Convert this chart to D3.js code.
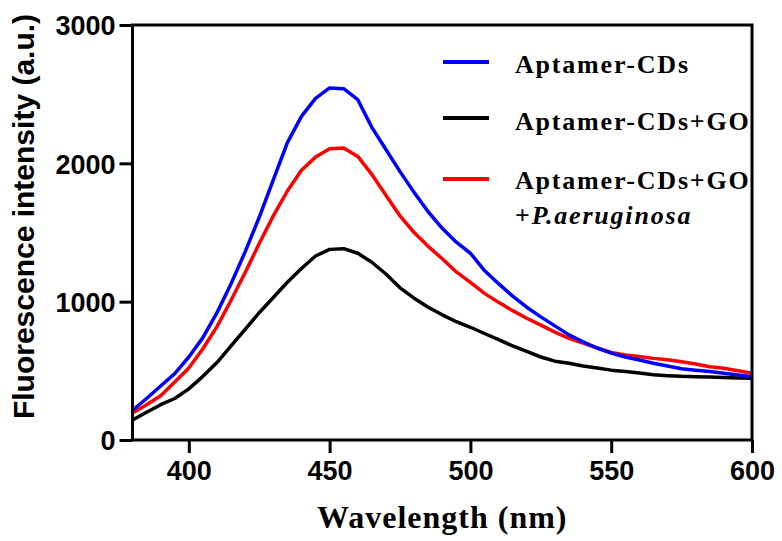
<!DOCTYPE html>
<html>
<head>
<meta charset="utf-8">
<script src="https://cdn.jsdelivr.net/npm/d3@7"></script>
<style>
  body { margin: 0; background: #fff; }
  svg { display: block; }
</style>
</head>
<body>
<div id="chart"></div>
<script>
// wavelength samples (nm)
const wavelengths = d3.range(380, 601, 5);

const aptamerCDs = [215, 300, 390, 480, 600, 740, 920, 1130, 1360, 1610, 1880, 2150, 2340, 2470, 2545,
    2540, 2460, 2260, 2100, 1940, 1790, 1650, 1530, 1430, 1350, 1225, 1130, 1040, 960, 890,
    825, 760, 710, 665, 628, 600, 578, 555, 535, 515, 505, 495, 483, 470, 458];

const aptamerCDsGO = [145, 200, 255, 300, 370, 460, 560, 680, 800, 920, 1030, 1140, 1240, 1330, 1378,
    1383, 1350, 1285, 1200, 1100, 1025, 960, 905, 855, 815, 770, 725, 680, 640, 600,
    570, 555, 535, 520, 505, 495, 485, 472, 465, 460, 458, 455, 451, 449, 447];

const aptamerCDsGOPa = [195, 255, 320, 420, 520, 660, 820, 1010, 1210, 1420, 1620, 1800, 1950, 2045, 2105,
    2110, 2050, 1920, 1770, 1620, 1500, 1400, 1310, 1215, 1140, 1060, 995, 935, 880, 830,
    780, 735, 700, 665, 633, 615, 603, 590, 580, 565, 550, 530, 518, 500, 483];

const xTicks = [400, 450, 500, 550, 600];
const yTicks = [0, 1000, 2000, 3000];

const series = [
    { name: "Aptamer-CDs", values: aptamerCDs, color: "#0000ff" },
    { name: "Aptamer-CDs+GO", values: aptamerCDsGO, color: "#000000" },
    { name: "Aptamer-CDs+GO", extra: "P.aeruginosa", values: aptamerCDsGOPa, color: "#ff0000" }
];

const width = 782, height = 541;
const margin = { left: 132.5, right: 30, top: 25, bottom: 101 };

const svg = d3.select("#chart").append("svg")
    .attr("width", width)
    .attr("height", height);

const x = d3.scaleLinear().domain([380, 600]).range([margin.left, width - margin.right]);
const y = d3.scaleLinear().domain([0, 3000]).range([height - margin.bottom, margin.top]);

const line = d3.line()
    .x((d, i) => x(wavelengths[i]))
    .y(d => y(d));

// black first, then red, then blue on top
[series[1], series[2], series[0]].forEach(s => {
    svg.append("path")
        .datum(s.values)
        .attr("fill", "none")
        .attr("stroke", s.color)
        .attr("stroke-width", 3.5)
        .attr("stroke-linejoin", "round")
        .attr("d", line);
});

// frame box
svg.append("rect")
    .attr("x", x(380))
    .attr("y", y(3000))
    .attr("width", x(600) - x(380))
    .attr("height", y(0) - y(3000))
    .attr("fill", "none")
    .attr("stroke", "#000")
    .attr("stroke-width", 3);

const xAxis = svg.append("g")
    .attr("transform", `translate(0,${y(0)})`)
    .call(d3.axisBottom(x).tickValues(xTicks).tickFormat(d3.format("d"))
        .tickSize(13).tickSizeOuter(0).tickPadding(8));

const yAxis = svg.append("g")
    .attr("transform", `translate(${x(380)},0)`)
    .call(d3.axisLeft(y).tickValues(yTicks).tickFormat(d3.format("d"))
        .tickSize(13).tickSizeOuter(0).tickPadding(4));

[xAxis, yAxis].forEach(g => {
    g.select(".domain").remove();
    g.selectAll(".tick line").attr("stroke", "#000").attr("stroke-width", 3);
    g.selectAll(".tick text")
        .attr("fill", "#000")
        .style("font-family", "'Liberation Sans', Arial, sans-serif")
        .style("font-weight", "bold")
        .style("font-size", "27px");
});
yAxis.selectAll(".tick text").attr("dy", "0.36em");

// axis titles
svg.append("text")
    .attr("x", (x(380) + x(600)) / 2)
    .attr("y", 528)
    .attr("text-anchor", "middle")
    .style("font-family", "'Liberation Serif', 'Times New Roman', serif")
    .style("font-weight", "bold")
    .style("font-size", "32px")
    .style("letter-spacing", "1px")
    .text("Wavelength (nm)");

svg.append("text")
    .attr("transform", `translate(34,${(y(0) + y(3000)) / 2 - 16}) rotate(-90)`)
    .attr("text-anchor", "middle")
    .style("font-family", "'Liberation Sans', Arial, sans-serif")
    .style("font-weight", "bold")
    .style("font-size", "30px")
    .text("Fluorescence intensity (a.u.)");

// legend
const legendRows = [62, 118, 179];
const legendText = [73, 130, 189];
const legend = svg.append("g");
series.forEach((s, i) => {
    legend.append("line")
        .attr("x1", 443).attr("x2", 489)
        .attr("y1", legendRows[i]).attr("y2", legendRows[i])
        .attr("stroke", s.color)
        .attr("stroke-width", 4);
    legend.append("text")
        .attr("x", 515)
        .attr("y", legendText[i])
        .style("font-family", "'Liberation Serif', 'Times New Roman', serif")
        .style("font-weight", "bold")
        .style("font-size", "26px")
        .style("letter-spacing", "1.8px")
        .text(s.name);
    if (s.extra) {
        const t2 = legend.append("text")
            .attr("x", 515)
            .attr("y", legendText[i] + 35)
            .style("font-family", "'Liberation Serif', 'Times New Roman', serif")
            .style("font-weight", "bold")
            .style("font-size", "26px")
            .style("letter-spacing", "1.8px");
        t2.append("tspan").text("+");
        t2.append("tspan").style("font-style", "italic").text(s.extra);
    }
});
</script>
</body>
</html>
